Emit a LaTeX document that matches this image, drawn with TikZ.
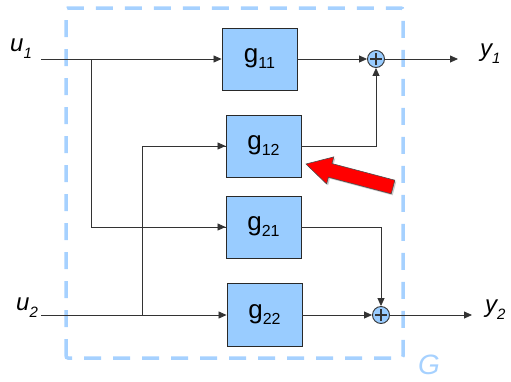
\documentclass[tikz,border=0pt]{standalone}
\usepackage{fontspec}
\setmainfont{Liberation Sans}
\usetikzlibrary{arrows.meta}
\definecolor{boxblue}{HTML}{99CCFF}
\definecolor{dashblue}{HTML}{A6D1FF}
\definecolor{linegray}{HTML}{333333}
\definecolor{arrred}{HTML}{FF0000}
\newcommand\glab[1]{g\raisebox{-6pt}{\fontsize{16}{16}\selectfont #1}}
\newcommand\iolab[2]{\fontsize{24}{24}\selectfont\itshape #1\raisebox{-7pt}{\fontsize{15}{15}\selectfont #2}}
\begin{document}
\begin{tikzpicture}[x=1pt,y=-1pt,
  blk/.style={draw=linegray!80!black, fill=boxblue, line width=0.9pt, minimum width=75pt, minimum height=62pt, inner sep=0pt, font=\fontsize{26}{26}\selectfont},
  sumnode/.style={circle, draw=linegray, fill=boxblue, line width=0.9pt, minimum size=17pt, inner sep=0pt},
  sig/.style={draw=linegray, line width=0.8pt},
  arr/.style={sig, -{Triangle[length=8pt,width=7pt]}},
  lbl/.style={inner sep=0pt, anchor=base west}
]
\path[use as bounding box] (0,0) rectangle (511,381);
% dashed frame
\draw[dashblue, line width=3.5pt, dash pattern=on 17pt off 12pt, rounded corners=2pt] (66,358) -- (66,8) -- (403,8) -- (403,358) -- cycle;
\node[text=dashblue, inner sep=0pt, font=\fontsize{28}{28}\selectfont\itshape] (G) at (429,365) {G};

% blocks
\node[blk] (g11) at (259.5,59) {\glab{11}};
\node[blk] (g12) at (263.5,146) {\glab{12}};
\node[blk] (g21) at (263.5,227) {\glab{21}};
\node[blk, minimum height=63pt] (g22) at (264.5,315) {\glab{22}};

% sums
\node[sumnode] (s1) at (376,59) {};
\node[sumnode] (s2) at (381,315) {};
\foreach \s in {s1,s2}{
  \draw[linegray, line width=1.6pt] ([xshift=-6pt]\s.center) -- ([xshift=6pt]\s.center);
  \draw[linegray, line width=1.6pt] ([yshift=-6pt]\s.center) -- ([yshift=6pt]\s.center);
}

% labels
\node[lbl] (u1) at (10,51) {\iolab{u}{1}};
\node[lbl] (u2) at (16,310) {\iolab{u}{2}};
\node[lbl] (y1) at (480,56) {\iolab{y}{1}};
\node[lbl] (y2) at (485,312) {\iolab{y}{2}};

% coordinates
\coordinate (u1s) at (41,59);
\coordinate (u2s) at (41,315);
\coordinate (b1) at (91,59);
\coordinate (b2) at (142,315);
\coordinate (y1e) at (458,59);
\coordinate (y2e) at (472,315);

% connectors
\draw[arr] (u1s) -- (g11.west);
\draw[sig] (b1) |- (g21.west);
\draw[arr] (b1 |- g21.west) -- (g21.west);
\draw[arr] (u2s) -- (g22.west);
\draw[sig] (b2) |- (g12.west);
\draw[arr] (b2 |- g12.west) -- (g12.west);
\draw[arr] (g11.east) -- (s1.west);
\draw[arr] (g12.east) -| (s1.south);
\draw[arr] (g21.east) -| (s2.north);
\draw[arr] (g22.east) -- (s2.west);
\draw[arr] (s1.east) -- (y1e);
\draw[arr] (s2.east) -- (y2e);

% red pointer arrow
\fill[black!40, opacity=0.5, shift={(1.5,1.5)}] (306,164) -- (333.8,156.9) -- (332.0,163.6) -- (394.8,180.2) -- (391.2,193.8) -- (328.4,177.2) -- (326.6,183.9) -- cycle;
\draw[fill=arrred, draw=black!70, line width=0.6pt, line join=miter] (306,164) -- (333.8,156.9) -- (332.0,163.6) -- (394.8,180.2) -- (391.2,193.8) -- (328.4,177.2) -- (326.6,183.9) -- cycle;
\end{tikzpicture}
\end{document}
